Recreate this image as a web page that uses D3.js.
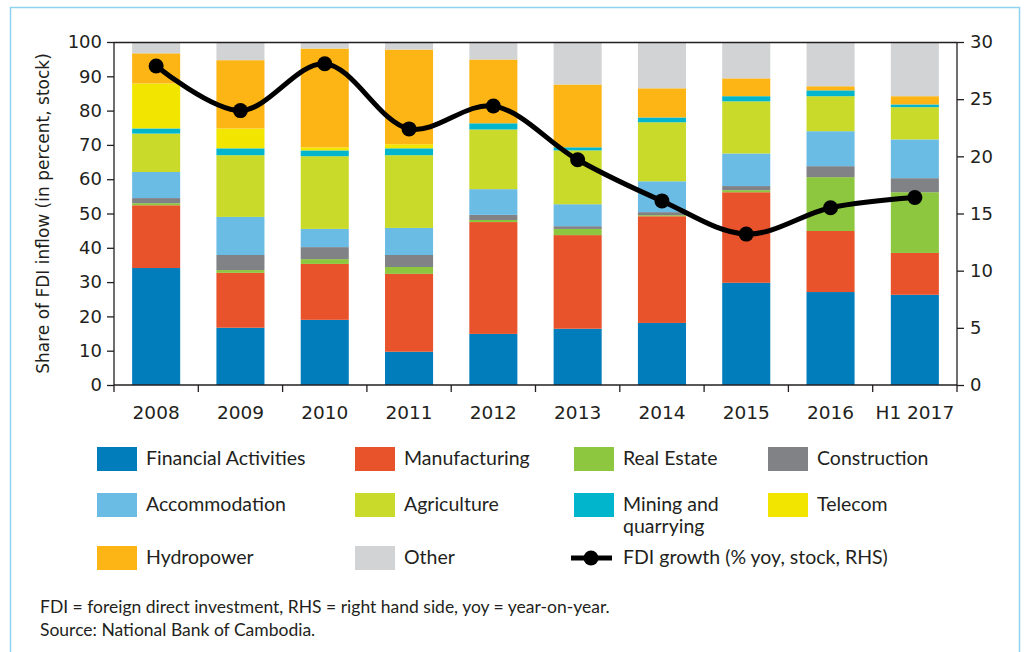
<!DOCTYPE html>
<html>
<head>
<meta charset="utf-8">
<script src="https://cdn.jsdelivr.net/npm/d3@7"></script>
<style>
  body { margin: 0; background: #fff; }
  svg text { fill: #231f20; }
</style>
</head>
<body>
<div id="chart"></div>
<script>
(function() {

    // categories + series (share of FDI inflow, percent of stock)
    var years = ["2008", "2009", "2010", "2011", "2012", "2013", "2014", "2015", "2016", "H1 2017"];
    var sectors = ["Financial Activities", "Manufacturing", "Real Estate", "Construction", "Accommodation",
                   "Agriculture", "Mining and quarrying", "Telecom", "Hydropower", "Other"];
    var colors = ["#007dba", "#e8532b", "#8dc63f", "#808285", "#6bbce4",
                  "#c9da2b", "#00b5cc", "#f2e600", "#fdb515", "#d1d3d4"];

    var financial     = [34.1, 16.7, 19.0,  9.7, 14.9, 16.4, 18.1, 29.8, 27.1, 26.3];
    var manufacturing = [18.3, 16.0, 16.3, 22.7, 32.6, 27.3, 31.1, 26.4, 17.8, 12.2];
    var realEstate    = [ 0.6,  0.8,  1.4,  2.0,  0.6,  1.8,  0.3,  0.6, 15.7, 17.7];
    var construction  = [ 1.5,  4.4,  3.5,  3.5,  1.5,  0.8,  0.9,  1.2,  3.2,  4.1];
    var accommodation = [ 7.6, 11.1,  5.3,  7.9,  7.5,  6.4,  9.0,  9.5, 10.2, 11.3];
    var agriculture   = [11.2, 18.0, 21.2, 21.2, 17.4, 15.7, 17.2, 15.2, 10.2,  9.4];
    var mining        = [ 1.5,  2.0,  1.7,  2.0,  1.8,  0.9,  1.4,  1.5,  1.7,  0.8];
    var telecom       = [13.1,  5.8,  0.9,  1.2,  0.0,  0.0,  0.0,  0.0,  0.0,  0.0];
    var hydropower    = [ 8.8, 19.9, 28.8, 27.6, 18.6, 18.3,  8.5,  5.2,  1.2,  2.4];
    var other         = [ 3.3,  5.3,  1.9,  2.2,  5.1, 12.4, 13.5, 10.6, 12.9, 15.8];

    // FDI growth (% yoy, stock) - right hand side
    var fdiGrowth = [27.9, 24.0, 28.1, 22.4, 24.4, 19.7, 16.1, 13.2, 15.5, 16.4];

    var leftTicks = [0, 10, 20, 30, 40, 50, 60, 70, 80, 90, 100];
    var rightTicks = [0, 5, 10, 15, 20, 25, 30];

    var series = [financial, manufacturing, realEstate, construction, accommodation,
                  agriculture, mining, telecom, hydropower, other];

    var rows = years.map(function(y, i) {
        var r = {year: y};
        sectors.forEach(function(s, k) { r[s] = series[k][i]; });
        return r;
    });

    var W = 1027, H = 652;
    var margin = {top: 42, left: 114, right: 70, bottom: 267};
    var width = W - margin.left - margin.right,
        height = H - margin.top - margin.bottom;

    var svg = d3.select("#chart").append("svg")
        .attr("width", W)
        .attr("height", H);

    // light blue frame around the figure
    svg.append("rect")
        .attr("x", 10.5).attr("y", 7.5)
        .attr("width", 1009).attr("height", 660)
        .attr("fill", "none")
        .attr("stroke", "#8fd3f1")
        .attr("stroke-width", 1.5);

    var g = svg.append("g")
        .attr("transform", "translate(" + margin.left + "," + margin.top + ")");

    var x = d3.scaleBand().domain(years).range([0, width]).paddingInner(0.43).paddingOuter(0.215);
    var y = d3.scaleLinear().domain([0, 100]).range([height, 0]);
    var y2 = d3.scaleLinear().domain([0, 30]).range([height, 0]);

    var stack = d3.stack().keys(sectors);
    var layers = stack(rows);

    g.selectAll(".layer")
        .data(layers)
        .enter().append("g")
        .attr("class", "layer")
        .attr("fill", function(d, i) { return colors[i]; })
        .selectAll("rect")
        .data(function(d) { return d; })
        .enter().append("rect")
        .attr("x", function(d) { return x(d.data.year); })
        .attr("width", x.bandwidth())
        .attr("y", function(d) { return y(Math.min(100, d[1])); })
        .attr("height", function(d) { return Math.max(0, y(d[0]) - y(Math.min(100, d[1]))); });

    // top frame line
    g.append("line")
        .attr("x1", 0).attr("x2", width)
        .attr("y1", 0.5).attr("y2", 0.5)
        .attr("stroke", "#231f20").attr("stroke-width", 1.5);

    var tickFont = "'DejaVu Sans', sans-serif";

    var yAxis = g.append("g")
        .call(d3.axisLeft(y).tickValues(leftTicks).tickSize(7).tickPadding(5));
    var yAxis2 = g.append("g")
        .attr("transform", "translate(" + width + ",0)")
        .call(d3.axisRight(y2).tickValues(rightTicks).tickSize(7).tickPadding(6));

    // x axis: ticks sit between the categories
    var xAxis = g.append("g")
        .attr("transform", "translate(0," + height + ")");
    xAxis.append("line")
        .attr("x1", 0).attr("x2", width)
        .attr("stroke", "#231f20").attr("stroke-width", 1.5);
    xAxis.selectAll(".sep")
        .data(d3.range(years.length + 1))
        .enter().append("line")
        .attr("class", "sep")
        .attr("x1", function(i) { return i * x.step(); })
        .attr("x2", function(i) { return i * x.step(); })
        .attr("y1", 0).attr("y2", 7)
        .attr("stroke", "#231f20").attr("stroke-width", 1.3);
    xAxis.selectAll(".lbl")
        .data(years)
        .enter().append("text")
        .attr("class", "lbl")
        .attr("x", function(d) { return x(d) + x.bandwidth() / 2; })
        .attr("y", 34)
        .attr("text-anchor", "middle")
        .style("font-family", tickFont)
        .style("font-size", "18.5px")
        .text(function(d) { return d; });

    [yAxis, yAxis2].forEach(function(a) {
        a.selectAll("path, line").attr("stroke", "#231f20").attr("stroke-width", 1.3);
        a.select(".domain").attr("d", "M0,0V" + height);
        a.selectAll("text")
            .style("font-family", tickFont)
            .style("font-size", "18px")
            .attr("fill", "#231f20");
    });

    g.append("text")
        .attr("transform", "translate(-65," + (height / 2) + ") rotate(-90)")
        .attr("text-anchor", "middle")
        .style("font-family", tickFont)
        .style("font-size", "17px")
        .text("Share of FDI inflow (in percent, stock)");

    // FDI growth line, smoothed
    var line = d3.line()
        .x(function(d, i) { return x(years[i]) + x.bandwidth() / 2; })
        .y(function(d) { return y2(d); })
        .curve(d3.curveCatmullRom.alpha(0.5));

    g.append("path")
        .datum(fdiGrowth)
        .attr("d", line)
        .attr("fill", "none")
        .attr("stroke", "#000")
        .attr("stroke-width", 5);

    g.selectAll(".dot")
        .data(fdiGrowth)
        .enter().append("circle")
        .attr("class", "dot")
        .attr("cx", function(d, i) { return x(years[i]) + x.bandwidth() / 2; })
        .attr("cy", function(d) { return y2(d); })
        .attr("r", 7.5)
        .attr("fill", "#000");

    /*
        Legend
    */
    var legendFont = "Lato, 'Noto Sans', sans-serif";
    var colX = [97, 355, 574, 768],
        rowY = [459, 505, 558];

    var legend = svg.append("g").attr("class", "legend");
    sectors.forEach(function(s, i) {
        var cx = colX[i % 4], cy = rowY[Math.floor(i / 4)];
        legend.append("rect")
            .attr("x", cx).attr("y", cy - 12)
            .attr("width", 40).attr("height", 24)
            .attr("fill", colors[i]);
        var t = legend.append("text")
            .attr("x", cx + 49).attr("y", cy + 6)
            .style("font-family", legendFont)
            .style("font-size", "19.5px");
        if (s === "Mining and quarrying") {
            t.append("tspan").attr("x", cx + 49).text("Mining and");
            t.append("tspan").attr("x", cx + 49).attr("dy", 22).text("quarrying");
        } else {
            t.text(s);
        }
    });

    var lx = colX[2], ly = rowY[2];
    legend.append("line")
        .attr("x1", lx - 3).attr("x2", lx + 38)
        .attr("y1", ly).attr("y2", ly)
        .attr("stroke", "#000").attr("stroke-width", 5);
    legend.append("circle")
        .attr("cx", lx + 17).attr("cy", ly).attr("r", 7.5).attr("fill", "#000");
    legend.append("text")
        .attr("x", lx + 49).attr("y", ly + 6)
        .style("font-family", legendFont)
        .style("font-size", "19.5px")
        .text("FDI growth (% yoy, stock, RHS)");

    // notes
    var notes = ["FDI = foreign direct investment, RHS = right hand side, yoy = year-on-year.",
                 "Source: National Bank of Cambodia."];
    svg.selectAll(".note")
        .data(notes)
        .enter().append("text")
        .attr("class", "note")
        .attr("x", 40)
        .attr("y", function(d, i) { return 613 + i * 23; })
        .style("font-family", legendFont)
        .style("font-size", "17.5px")
        .text(function(d) { return d; });

})();
</script>
</body>
</html>
